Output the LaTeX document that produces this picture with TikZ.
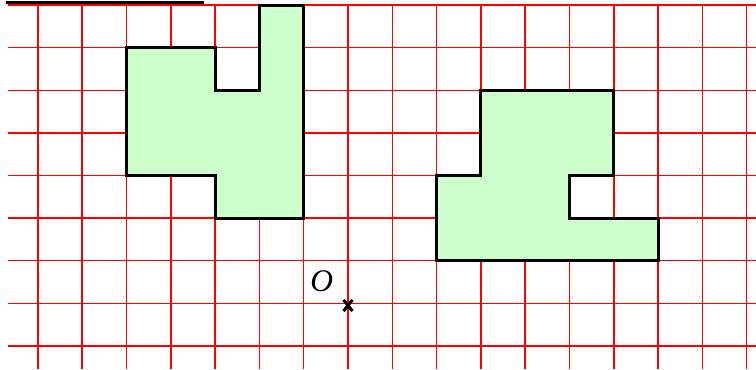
\documentclass[tikz,border=0pt]{standalone}
\usepackage{fontspec}
\setmainfont{Liberation Serif}
\usetikzlibrary{positioning}
\definecolor{figgreen}{RGB}{204,255,204}
\tikzset{
  gridline/.style = {red, line width=1pt},% quadrillage
  figure/.style = {draw=black, fill=figgreen, line width=2pt,
    line join=miter},% figure coloriee
  crossmark/.style = {black, line width=2pt},% croix du point O
  topbar/.style = {black, line width=2.4pt}
}

\begin{document}
\begin{tikzpicture}[x=1.04cm, y=1cm]
  \useasboundingbox (-7.855,-1.543) rectangle (9.21,7.121);
  % quadrillage
  \foreach \i in {-7,...,9}
    \draw[gridline] (\i,7) -- (\i,-1.543);
  \foreach \j in {-1,...,7}
    \draw[gridline] (-7.67,\j) -- (9.21,\j);
  \draw[topbar] (-7.72,7.06) -- (-3.25,7.06);
  % figure de gauche
  \draw[figure] (-5,6) -- (-3,6) -- (-3,5) -- (-2,5) -- (-2,7) -- (-1,7)
    -- (-1,2) -- (-3,2) -- (-3,3) -- (-5,3) -- cycle;
  % figure de droite
  \draw[figure] (2,1) -- (2,3) -- (3,3) -- (3,5) -- (6,5) -- (6,3)
    -- (5,3) -- (5,2) -- (7,2) -- (7,1) -- cycle;
  % point O
  \coordinate (O) at (0,-0.05);
  \draw[crossmark] ([shift={(-0.1,-0.13)}]O) -- ([shift={(0.1,0.13)}]O);
  \draw[crossmark] ([shift={(-0.1,0.13)}]O) -- ([shift={(0.1,-0.13)}]O);
  \node (olbl) at (-0.59,0.53) {\fontsize{21}{24}\selectfont\itshape O};
\end{tikzpicture}
\end{document}
